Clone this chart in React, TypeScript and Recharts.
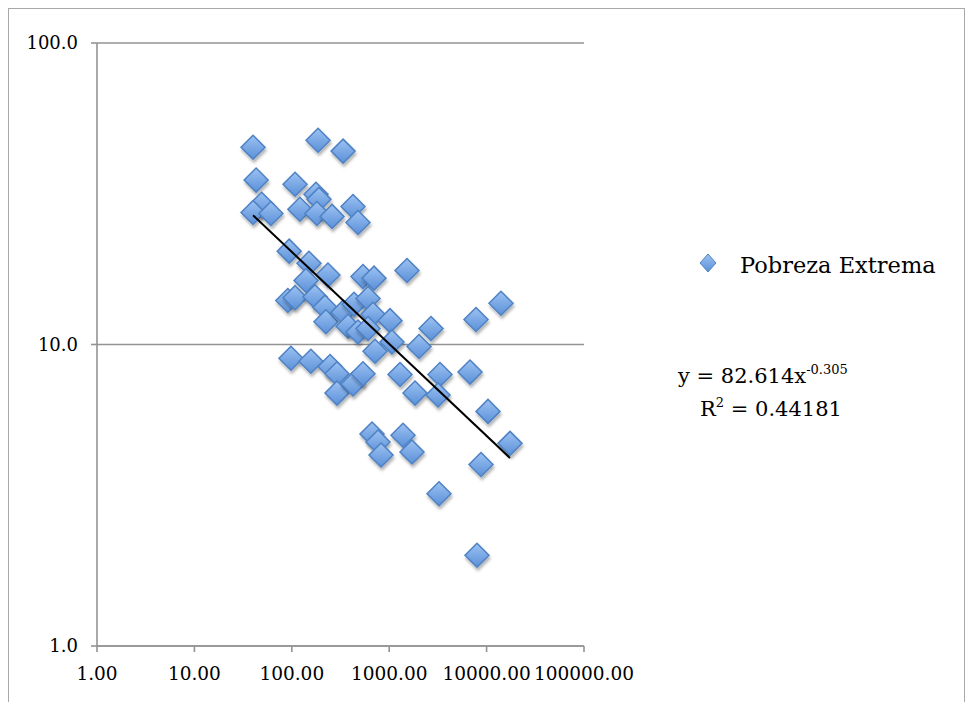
import React from "react";
import { ScatterChart, Scatter, XAxis, YAxis, CartesianGrid } from "recharts";

// ingreso (eje x, log) y pobreza extrema % (eje y, log)
const ingreso = [
  40, 186, 336, 43, 108, 177, 190, 49, 40, 61, 121, 181, 259, 425, 478,
  94, 150, 235, 140, 538, 698, 1523, 91, 108, 173, 219, 224, 336, 435, 606,
  682, 1019, 378, 478, 606, 1068, 715, 2023, 2687, 7784, 14050, 98, 157, 247,
  291, 291, 425, 538, 1291, 1840, 3323, 3170, 6754, 10334, 17390, 8761, 666,
  767, 824, 1386, 1714, 3246, 7968,
];
const pobreza = [
  45.1, 47.6, 43.8, 35.1, 34.0, 31.5, 30.3, 29.2, 27.4, 27.2, 28.1, 27.2, 26.6, 28.7, 25.4,
  20.4, 18.6, 17.0, 16.3, 16.8, 16.6, 17.6, 14.0, 14.3, 14.4, 13.3, 11.9, 12.8, 13.6, 14.2,
  12.6, 12.0, 11.5, 11.0, 11.3, 10.2, 9.5, 9.85, 11.3, 12.1, 13.7, 9.0, 8.8, 8.45,
  8.0, 6.9, 7.4, 8.0, 7.95, 6.9, 7.95, 6.8, 8.1, 6.0, 4.7, 4.0, 5.05,
  4.75, 4.3, 5.0, 4.4, 3.2, 2.0,
];
const xTicks = [1, 10, 100, 1000, 10000, 100000];
const yTicks = [1, 10, 100];
const seriesName = "Pobreza Extrema";
const trendA = 82.614;
const trendB = -0.305;
const r2 = "0.44181";

const points = ingreso.map((x, i) => ({ x, y: pobreza[i] }));
const xMin = Math.min(...ingreso);
const xMax = Math.max(...ingreso);
const trend = [xMin, xMax].map((x) => ({ x, y: trendA * Math.pow(x, trendB) }));

const FONT = "DejaVu Serif";
const AXIS = "#939393";

function Diamond(props: any) {
  const { cx, cy } = props;
  if (cx == null || cy == null) return <g />;
  const r = 12;
  return (
    <path
      d={`M${cx},${cy - r} L${cx + r},${cy} L${cx},${cy + r} L${cx - r},${cy} Z`}
      fill="url(#dmFill)"
      stroke="#4f82c4"
      strokeWidth={1.5}
      filter="url(#dmShadow)"
    />
  );
}

const noDot = () => <g />;

export default function App() {
  return (
    <div
      style={{
        position: "relative",
        width: 957,
        height: 700,
        border: "1px solid #a8a8a8",
        boxSizing: "border-box",
        background: "#fff",
        fontFamily: FONT,
      }}
    >
      <ScatterChart
        width={955}
        height={698}
        margin={{ top: 34, right: 380, left: 0, bottom: 31 }}
      >
        <defs>
          <linearGradient id="dmFill" x1="0" y1="0" x2="0" y2="1">
            <stop offset="0%" stopColor="#9cc2f2" />
            <stop offset="100%" stopColor="#5b90d8" />
          </linearGradient>
          <filter id="dmShadow" x="-50%" y="-50%" width="200%" height="200%">
            <feDropShadow dx="1" dy="3" stdDeviation="1.5" floodColor="#000" floodOpacity="0.3" />
          </filter>
        </defs>
        <CartesianGrid vertical={false} stroke={AXIS} strokeWidth={1.6} />
        <XAxis
          type="number"
          dataKey="x"
          scale="log"
          domain={[1, 100000]}
          ticks={xTicks}
          allowDataOverflow
          height={30}
          tickSize={6}
          tickMargin={15}
          stroke={AXIS}
          strokeWidth={1.6}
          tick={{ fill: "#000", fontSize: 18.5, fontFamily: FONT }}
          tickFormatter={(v: number) => v.toFixed(2)}
          interval={0}
        />
        <YAxis
          type="number"
          dataKey="y"
          scale="log"
          domain={[1, 100]}
          ticks={yTicks}
          allowDataOverflow
          width={88}
          tickSize={6}
          tickMargin={13}
          stroke={AXIS}
          strokeWidth={1.6}
          tick={{ fill: "#000", fontSize: 18, fontFamily: FONT }}
          tickFormatter={(v: number) => v.toFixed(1)}
          interval={0}
        />
        <Scatter
          name={seriesName}
          data={points}
          shape={Diamond}
          isAnimationActive={false}
        />
        <Scatter
          data={trend}
          line={{ stroke: "#000", strokeWidth: 2 }}
          shape={noDot}
          legendType="none"
          isAnimationActive={false}
        />
      </ScatterChart>
      <svg
        width={955}
        height={698}
        style={{ position: "absolute", left: 0, top: 0, pointerEvents: "none" }}
      >
        <path
          d="M699,245 L707,254 L699,263 L691,254 Z"
          fill="url(#dmFill)"
          stroke="#4f82c4"
          strokeWidth={1}
        />
        <text x={731} y={264} fontSize={22.5} fontFamily={FONT} fill="#000">
          {seriesName}
        </text>
        <text x={669} y={374} fontSize={21} fontFamily={FONT} fill="#000">
          {`y = ${trendA}x`}
          <tspan fontSize={13} dy={-9}>{trendB.toFixed(3)}</tspan>
        </text>
        <text x={691} y={407} fontSize={21} fontFamily={FONT} fill="#000">
          R<tspan fontSize={13} dy={-9}>2</tspan>
          <tspan dy={9}>{` = ${r2}`}</tspan>
        </text>
      </svg>
    </div>
  );
}
